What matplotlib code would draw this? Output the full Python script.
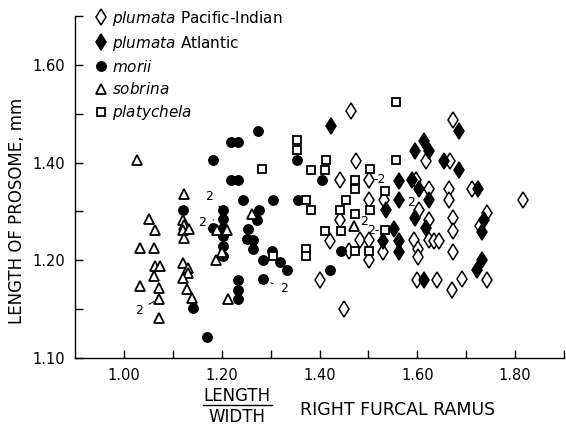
import numpy as np
import matplotlib
matplotlib.use("Agg")
import matplotlib.pyplot as plt

# plumata Pacific-Indian (open diamonds)
pacific_x = [1.402, 1.422, 1.441, 1.442, 1.451, 1.461, 1.465, 1.475, 1.482,
             1.502, 1.502, 1.502, 1.502, 1.530, 1.532,
             1.593, 1.597, 1.600, 1.602, 1.602, 1.603, 1.617, 1.623, 1.624,
             1.623, 1.634, 1.644, 1.641,
             1.665, 1.665, 1.666, 1.671, 1.673, 1.673, 1.673, 1.673, 1.692,
             1.712, 1.728, 1.743, 1.743, 1.817]
pacific_y = [1.160, 1.239, 1.283, 1.365, 1.100, 1.220, 1.505, 1.403, 1.242,
             1.365, 1.324, 1.242, 1.201, 1.218, 1.324,
             1.242, 1.365, 1.160, 1.223, 1.207, 1.304, 1.403, 1.346, 1.283,
             1.241, 1.239, 1.239, 1.160,
             1.345, 1.324, 1.403, 1.140, 1.487, 1.287, 1.261, 1.218, 1.162,
             1.345, 1.270, 1.297, 1.159, 1.324]

# plumata Atlantic (filled diamonds)
atlantic_x = [1.424, 1.530, 1.536, 1.553, 1.562, 1.562, 1.562, 1.562,
              1.590, 1.595, 1.595, 1.603, 1.614, 1.614, 1.618, 1.623, 1.624, 1.654,
              1.685, 1.685, 1.724, 1.736, 1.732, 1.732, 1.722]
atlantic_y = [1.475, 1.240, 1.304, 1.264, 1.363, 1.324, 1.239, 1.218,
              1.364, 1.423, 1.287, 1.345, 1.444, 1.160, 1.267, 1.423, 1.324, 1.403,
              1.464, 1.384, 1.345, 1.283, 1.257, 1.200, 1.180]

# morii (filled circles)
morii_x = [1.121, 1.141, 1.169, 1.183, 1.183,
           1.202, 1.202, 1.202, 1.202, 1.202, 1.202,
           1.220, 1.234, 1.220, 1.234, 1.243,
           1.234, 1.234, 1.234,
           1.275, 1.277, 1.273, 1.254, 1.251, 1.265, 1.263,
           1.304, 1.302, 1.284, 1.319, 1.334, 1.284,
           1.354, 1.356, 1.405, 1.422, 1.444]
morii_y = [1.304, 1.102, 1.042, 1.405, 1.266,
           1.304, 1.285, 1.266, 1.249, 1.229, 1.208,
           1.442, 1.442, 1.364, 1.364, 1.324,
           1.160, 1.139, 1.121,
           1.464, 1.304, 1.283, 1.264, 1.244, 1.241, 1.223,
           1.324, 1.220, 1.201, 1.196, 1.181, 1.162,
           1.406, 1.324, 1.365, 1.181, 1.220]

# sobrina (open triangles)
sobrina_x = [1.026, 1.051, 1.033, 1.062, 1.064, 1.064, 1.073, 1.062, 1.033,
             1.071, 1.071, 1.071,
             1.123, 1.121, 1.123, 1.121, 1.134, 1.123, 1.121, 1.132, 1.132,
             1.121, 1.129, 1.140,
             1.188, 1.200, 1.190, 1.210, 1.212, 1.261, 1.471]
sobrina_y = [1.405, 1.285, 1.225, 1.225, 1.263, 1.188, 1.188, 1.167, 1.147,
             1.143, 1.121, 1.082,
             1.335, 1.283, 1.273, 1.263, 1.264, 1.246, 1.195, 1.184, 1.174,
             1.164, 1.141, 1.123,
             1.201, 1.218, 1.262, 1.262, 1.121, 1.294, 1.270]

# platychela (open squares)
platy_x = [1.354, 1.354, 1.283, 1.383, 1.414, 1.412, 1.373, 1.383, 1.305,
           1.372, 1.372, 1.412, 1.442, 1.455, 1.473, 1.473, 1.473, 1.444,
           1.473, 1.504, 1.504, 1.502, 1.534, 1.534, 1.556, 1.556]
platy_y = [1.446, 1.425, 1.386, 1.384, 1.406, 1.384, 1.324, 1.304, 1.208,
           1.223, 1.208, 1.261, 1.304, 1.324, 1.365, 1.345, 1.294, 1.261,
           1.220, 1.387, 1.302, 1.220, 1.341, 1.263, 1.524, 1.405]

# "2" labels: (text, point x, point y, label x, label y, leader)
dup_labels = [
    ("2", 1.071, 1.121, 1.030, 1.098, True),
    ("2", 1.202, 1.304, 1.174, 1.330, True),
    ("2", 1.195, 1.285, 1.160, 1.278, True),
    ("2", 1.290, 1.158, 1.327, 1.143, True),
    ("-2", 1.502, 1.365, 1.522, 1.365, False),
    ("2", 1.471, 1.270, 1.491, 1.279, False),
    ("2-", 1.525, 1.263, 1.510, 1.261, False),
    ("2", 1.595, 1.290, 1.587, 1.318, True),
]

fig = plt.figure(figsize=(5.66, 4.29), dpi=100)
ax = fig.add_axes([0.1325, 0.1655, 0.864, 0.797])

ax.plot(pacific_x, pacific_y, linestyle="none", marker="d", markersize=8.5,
        markerfacecolor="white", markeredgecolor="black", markeredgewidth=1.1,
        label=r"$\it{plumata}$ Pacific-Indian", zorder=3)
ax.plot(atlantic_x, atlantic_y, linestyle="none", marker="d", markersize=8.5,
        markerfacecolor="black", markeredgecolor="black", markeredgewidth=1.1,
        label=r"$\it{plumata}$ Atlantic", zorder=3)
ax.plot(morii_x, morii_y, linestyle="none", marker="o", markersize=6.8,
        markerfacecolor="black", markeredgecolor="black",
        label=r"$\it{morii}$", zorder=3)
ax.plot(sobrina_x, sobrina_y, linestyle="none", marker="^", markersize=6.8,
        markerfacecolor="white", markeredgecolor="black", markeredgewidth=1.3,
        label=r"$\it{sobrina}$", zorder=4)
ax.plot(platy_x, platy_y, linestyle="none", marker="s", markersize=6.0,
        markerfacecolor="white", markeredgecolor="black", markeredgewidth=1.3,
        label=r"$\it{platychela}$", zorder=4)

for txt, px, py, lx, ly, lead in dup_labels:
    if lead:
        ax.annotate(txt, xy=(px, py), xytext=(lx, ly), fontsize=9,
                    ha="center", va="center", zorder=5,
                    arrowprops=dict(arrowstyle="-", lw=0.7, color="black",
                                    shrinkA=3, shrinkB=4))
    else:
        ax.text(lx, ly, txt, fontsize=9, ha="center", va="center", zorder=5)

ax.set_xlim(0.90, 1.90)
ax.set_ylim(1.00, 1.70)

ax.set_xticks([1.00, 1.20, 1.40, 1.60, 1.80])
ax.set_xticklabels(["1.00", "1.20", "1.40", "1.60", "1.80"])
ax.set_xticks([1.10, 1.30, 1.50, 1.70, 1.90], minor=True)
ax.set_yticks([1.00, 1.20, 1.40, 1.60])
ax.set_yticklabels(["1.10", "1.20", "1.40", "1.60"])
ax.set_yticks([1.10, 1.30, 1.50, 1.70], minor=True)
ax.tick_params(which="both", direction="in", length=6, width=1.0,
               labelsize=10.5, pad=7)

for side in ["top", "right"]:
    ax.spines[side].set_visible(False)
for side in ["left", "bottom"]:
    ax.spines[side].set_linewidth(1.0)

ax.legend(loc="upper left", bbox_to_anchor=(0.025, 1.04), frameon=False,
          fontsize=11, handletextpad=0.2, handlelength=1.0, labelspacing=0.4,
          borderaxespad=0)

fig.text(0.03, 1 - 211 / 429, "LENGTH OF PROSOME, mm", rotation=90,
         ha="center", va="center", fontsize=12)
fig.text(237 / 566, 1 - 396 / 429, "LENGTH", ha="center", va="center", fontsize=12)
fig.add_artist(plt.Line2D([203 / 566, 272 / 566], [1 - 405 / 429, 1 - 405 / 429],
                          color="black", lw=1.0))
fig.text(237 / 566, 1 - 417 / 429, "WIDTH", ha="center", va="center", fontsize=12)
fig.text(300 / 566, 1 - 410 / 429, "RIGHT FURCAL RAMUS", ha="left",
         va="center", fontsize=12.5)

fig.savefig("out.png", dpi=100)
